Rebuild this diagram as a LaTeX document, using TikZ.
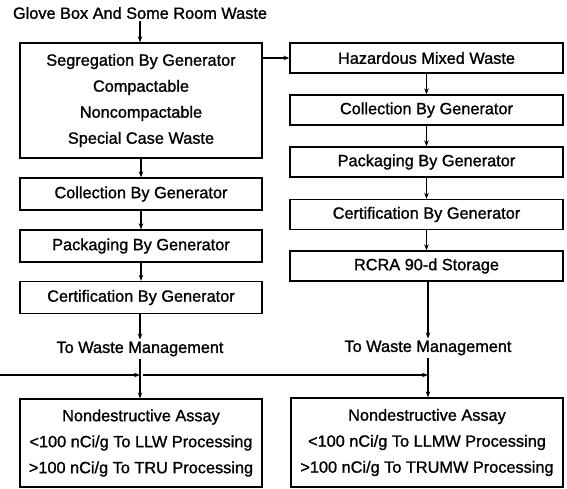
\documentclass[tikz,border=0pt]{standalone}
\usepackage{fontspec}
\setmainfont{Liberation Sans}[BoldFont={Liberation Sans},BoldFeatures={FakeBold=1.2}]
\usetikzlibrary{arrows.meta}
\begin{document}
\begin{tikzpicture}[x=1pt,y=-1pt,
  every node/.style={font=\fontsize{16.3}{26}\selectfont\bfseries, inner sep=2pt},
  box/.style={draw, line width=1.3pt, align=center, minimum width=242pt},
  rbox/.style={draw, line width=1.3pt, align=center, minimum width=273pt, minimum height=30pt},
  sbox/.style={draw, line width=1.3pt, align=center, minimum width=242pt, minimum height=32pt},
  arr/.style={line width=1.3pt, -{Stealth[length=6pt,width=4.5pt]}}]
\useasboundingbox (0,0) rectangle (567,488);
\node (title) at (140,13) {Glove Box And Some Room Waste};
\node[box, minimum height=115pt] (seg) at (141,100.5) {Segregation By Generator\\Compactable\\Noncompactable\\Special Case Waste};
\node[sbox] (col1) at (141,194) {Collection By Generator};
\node[sbox] (pack1) at (141,246) {Packaging By Generator};
\node[sbox] (cert1) at (141,297.5) {Certification By Generator};
\node (twm1) at (140,349) {To Waste Management};

\node[rbox] (hmw) at (426.5,58) {Hazardous Mixed Waste};
\node[rbox] (col2) at (426.5,110) {Collection By Generator};
\node[rbox] (pack2) at (426.5,162) {Packaging By Generator};
\node[rbox] (cert2) at (426.5,214.5) {Certification By Generator};
\node[rbox] (rcra) at (426.5,266) {RCRA 90-d Storage};
\node (twm2) at (428,348) {To Waste Management};

\node[box, minimum height=88pt] (nda1) at (141,443) {Nondestructive Assay\\{<}100 nCi/g To LLW Processing\\{>}100 nCi/g To TRU Processing};
\node[draw, line width=1.3pt, align=center, minimum width=272pt, minimum height=89pt] (nda2) at (427,442.5) {Nondestructive Assay\\{<}100 nCi/g To LLMW Processing\\{>}100 nCi/g To TRUMW Processing};

\draw[arr] (title) -- (seg.north -| title);
\draw[arr] (seg.east |- hmw.west) -- (hmw.west);
\draw[arr] (seg) -- (col1);
\draw[arr] (col1) -- (pack1);
\draw[arr] (pack1) -- (cert1);
\draw[arr] (cert1.south -| twm1) -- (twm1.north);
\draw[arr] (hmw) -- (col2);
\draw[arr] (col2) -- (pack2);
\draw[arr] (pack2) -- (cert2);
\draw[arr] (cert2) -- (rcra);
\draw[arr] (rcra.south -| twm2) -- (twm2.north);
\draw[arr] (twm1.south) -- (nda1.north -| twm1);
\draw[arr] (twm2.south) -- (nda2.north -| twm2);
\coordinate (feed) at (0,375);
\draw[arr] (feed) -- (feed -| twm1.south);
\draw[arr] ([xshift=3pt]feed -| twm1.south) -- (feed -| twm2.south);
\end{tikzpicture}
\end{document}
